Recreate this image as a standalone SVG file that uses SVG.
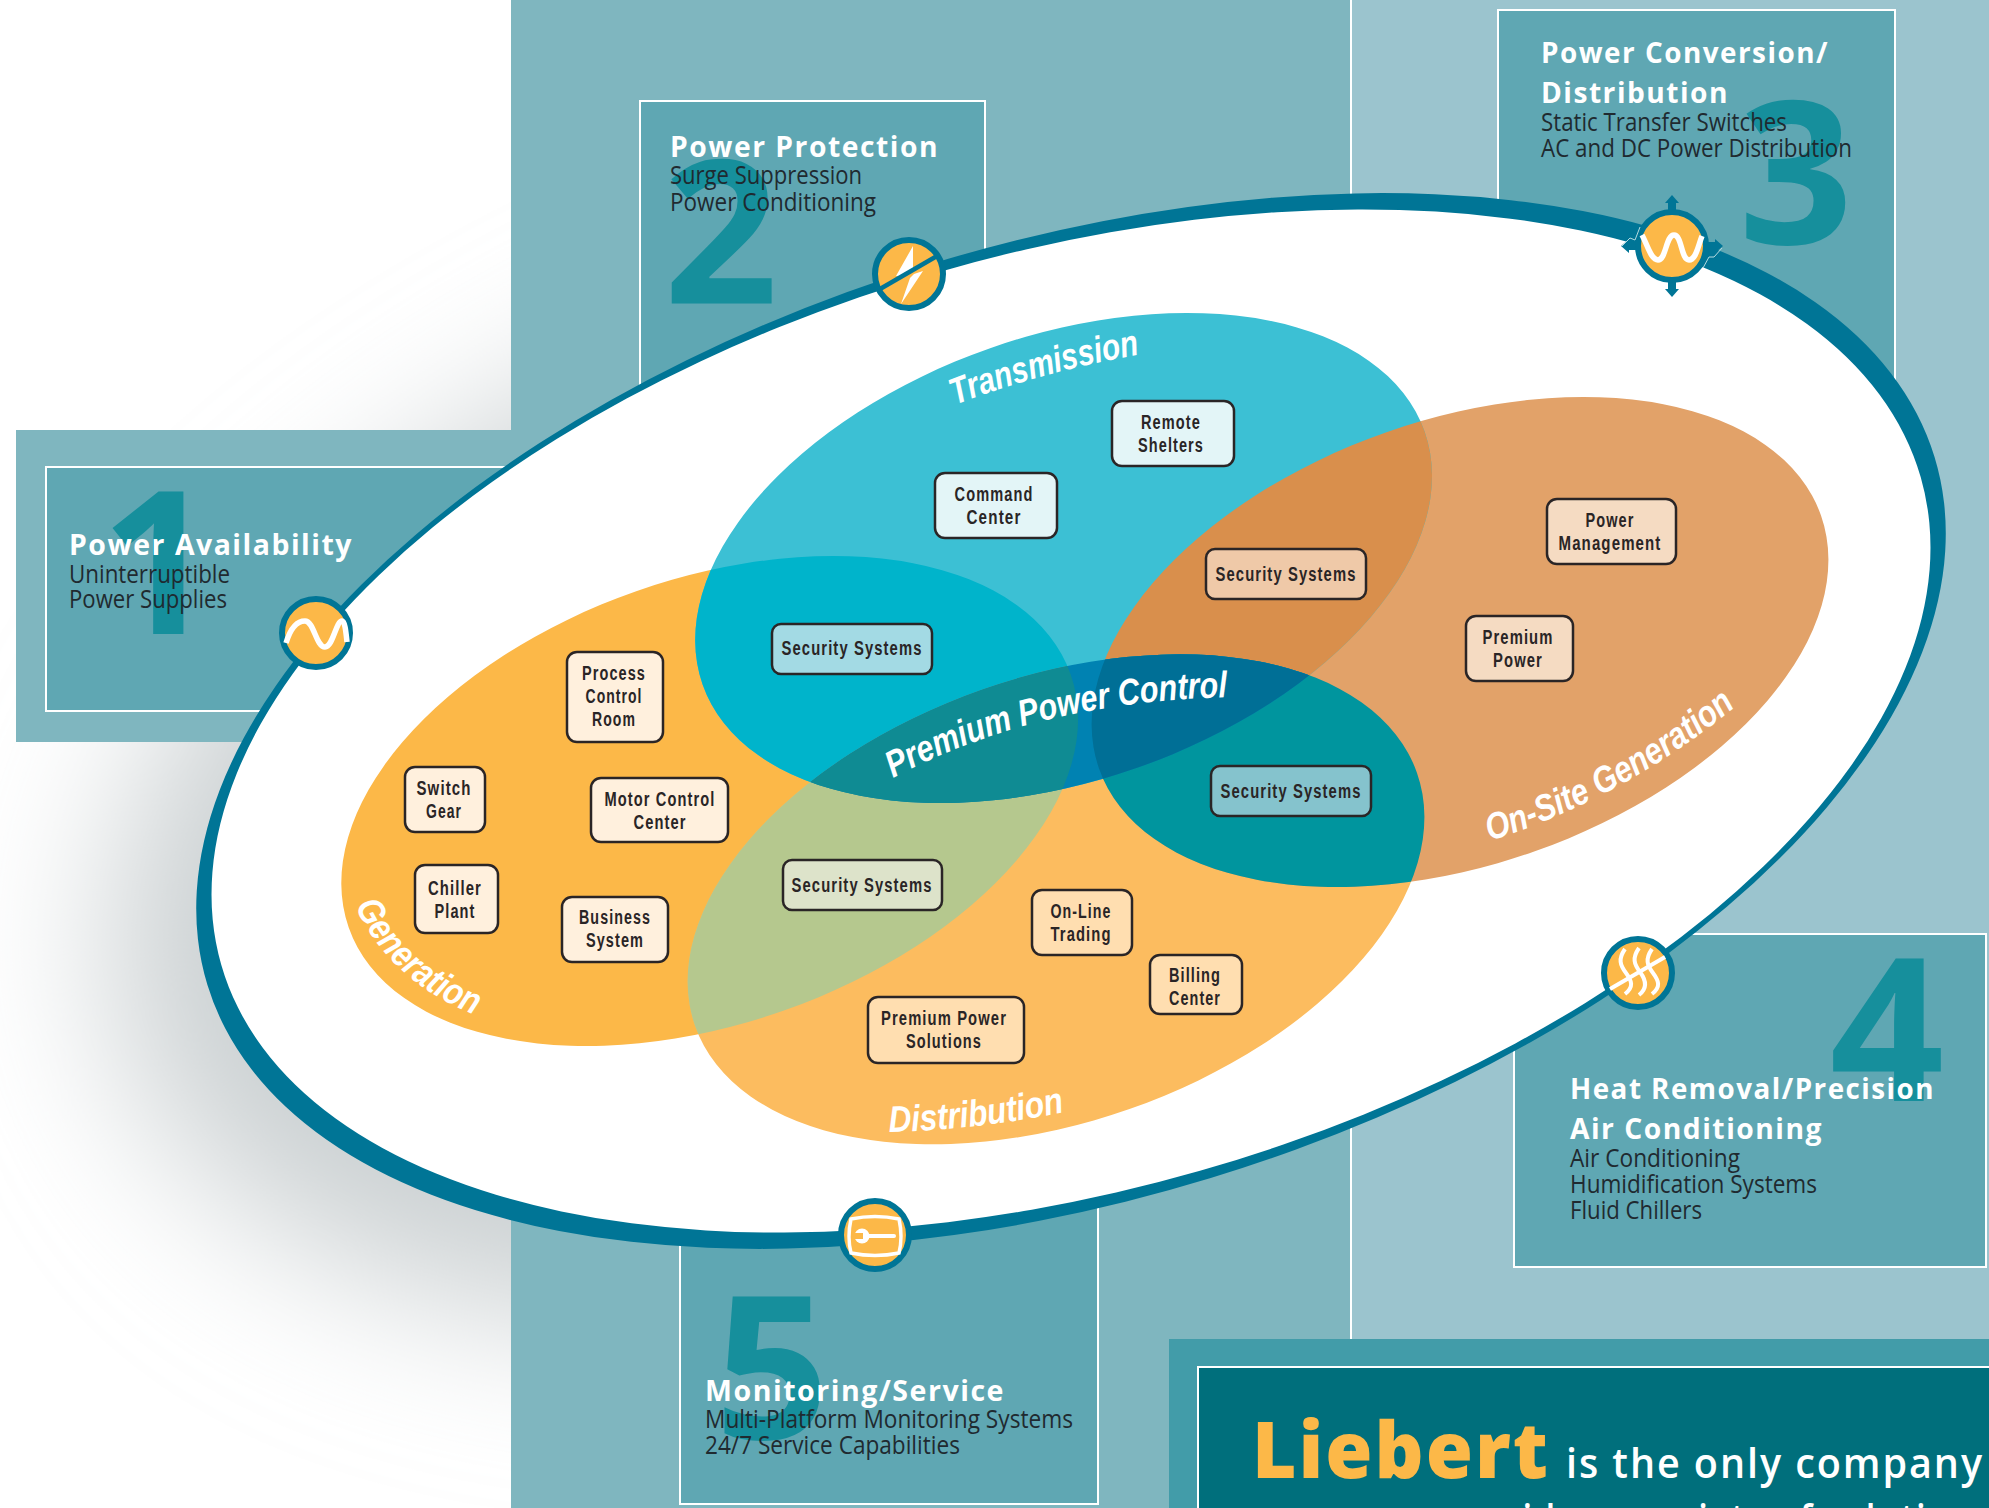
<svg xmlns="http://www.w3.org/2000/svg" xmlns:xlink="http://www.w3.org/1999/xlink" width="1989" height="1508" viewBox="0 0 1989 1508">
<style>
.pan{fill:#5fa7b3;stroke:#fff;stroke-width:2}
.dig{font-family:"Open Sans","Noto Sans",sans-serif;font-weight:700;font-size:200px;fill:#168f9c;text-anchor:middle}
.h{font-family:"Open Sans","Noto Sans",sans-serif;font-weight:700;font-size:28px;fill:#fff;letter-spacing:1.5px}
.b{font-family:"Open Sans","Noto Sans",sans-serif;font-size:25px;fill:#1f2a30}
.box{stroke:#2a2526;stroke-width:2.5}
.t{font-family:"Liberation Sans Narrow","Liberation Sans",sans-serif;font-weight:700;font-size:20px;fill:#2a2526;text-anchor:middle;letter-spacing:1.5px}
.v{font-family:"Liberation Sans Narrow","Liberation Sans",sans-serif;font-style:italic;font-weight:700;font-size:37px;fill:#fff}
.ic{fill:#fcb848;stroke:#007596;stroke-width:6}
.w{fill:none;stroke:#fff;stroke-width:5.5}
</style>
<defs>
<ellipse id="eT" cx="1063.6" cy="558" rx="382.5" ry="222.3" transform="rotate(-19.3 1063.6 558)"/>
<ellipse id="eO" cx="1460" cy="642" rx="382.5" ry="222.3" transform="rotate(-19.3 1460 642)"/>
<ellipse id="eG" cx="709.7" cy="801" rx="382.5" ry="222.3" transform="rotate(-19.3 709.7 801)"/>
<ellipse id="eD" cx="1056" cy="899.3" rx="382.5" ry="222.3" transform="rotate(-19.3 1056 899.3)"/>
<clipPath id="cT"><use href="#eT"/></clipPath>
<clipPath id="cO"><use href="#eO"/></clipPath>
<clipPath id="cG"><use href="#eG"/></clipPath>
<clipPath id="cD"><use href="#eD"/></clipPath>
<filter id="blur" x="-30%" y="-50%" width="160%" height="200%"><feGaussianBlur stdDeviation="78"/></filter>
<path id="pTr" d="M955 405Q1040 372 1142 354"/>
<path id="pGe" d="M355 906Q392 985 483 1018"/>
<path id="pDi" d="M889 1132Q975 1130 1065 1112"/>
<path id="pOn" d="M1490 841Q1635 795 1755 690"/>
<path id="pPr" d="M893 778Q1040 700 1236 697"/>
</defs>
<rect width="1989" height="1508" fill="#fff"/>
<ellipse cx="1012" cy="762" rx="930" ry="522" transform="rotate(-17 1012 762)" fill="#cbd0d2" filter="url(#blur)"/>
<g id="backgrounds">
<rect x="16" y="430" width="500" height="312" fill="#7fb6bf"/>
<rect x="1351" y="0" width="638" height="1508" fill="#9bc4ce"/>
<rect x="511" y="0" width="840" height="1508" fill="#7fb6bf"/>
<rect x="1350" y="0" width="2" height="1508" fill="#fff"/>
</g>
<g id="panel-1"><rect class="pan" x="46" y="467" width="660" height="244"/><text class="dig" x="158" y="634">1</text></g>
<g id="panel-2"><rect class="pan" x="640" y="101" width="345" height="400"/><text class="dig" x="721" y="303">2</text></g>
<g id="panel-3"><rect class="pan" x="1498" y="10" width="397" height="490"/><text class="dig" x="1796" y="244">3</text></g>
<g id="panel-4"><rect class="pan" x="1514" y="934" width="472" height="333"/><text class="dig" x="1887" y="1101">4</text></g>
<g id="panel-5"><rect class="pan" x="680" y="1100" width="418" height="404"/><text class="dig" x="772" y="1439">5</text></g>
<g id="ring">
<ellipse cx="1071" cy="721" rx="903" ry="478" transform="rotate(-17 1071 721)" fill="#007596"/>
<ellipse cx="1071" cy="721" rx="884" ry="468" transform="rotate(-16 1071 721)" fill="#fff"/>
</g>
<g id="venn">
<use href="#eG" fill="#fcb848"/>
<use href="#eD" fill="#fcbc5f"/>
<use href="#eO" fill="#e2a269"/>
<use href="#eT" fill="#3cc0d4"/>
<g clip-path="url(#cG)"><use href="#eT" fill="#00b4cb"/></g>
<g clip-path="url(#cO)"><use href="#eT" fill="#d98f4c"/></g>
<g clip-path="url(#cG)"><use href="#eD" fill="#b5c88e"/></g>
<g clip-path="url(#cO)"><use href="#eD" fill="#00959e"/></g>
<g clip-path="url(#cT)"><use href="#eD" fill="#0082b2"/></g>
<g clip-path="url(#cT)"><g clip-path="url(#cG)"><use href="#eD" fill="#0f8b93"/></g></g>
<g clip-path="url(#cT)"><g clip-path="url(#cO)"><use href="#eD" fill="#006f96"/></g></g>
<text class="v"><textPath href="#pTr" textLength="192" lengthAdjust="spacingAndGlyphs">Transmission</textPath></text>
<text class="v"><textPath href="#pGe" textLength="166" lengthAdjust="spacingAndGlyphs">Generation</textPath></text>
<text class="v"><textPath href="#pDi" textLength="177" lengthAdjust="spacingAndGlyphs">Distribution</textPath></text>
<text class="v"><textPath href="#pOn" textLength="282" lengthAdjust="spacingAndGlyphs">On-Site Generation</textPath></text>
<text class="v"><textPath href="#pPr" textLength="347" lengthAdjust="spacingAndGlyphs">Premium Power Control</textPath></text>
</g>
<g id="text-1"><text class="h" x="69" y="555" textLength="284" lengthAdjust="spacingAndGlyphs">Power Availability</text><text class="b" x="69" y="583" textLength="161" lengthAdjust="spacingAndGlyphs">Uninterruptible</text><text class="b" x="69" y="608" textLength="158" lengthAdjust="spacingAndGlyphs">Power Supplies</text></g>
<g id="text-2"><text class="h" x="670" y="157" textLength="269" lengthAdjust="spacingAndGlyphs">Power Protection</text><text class="b" x="670" y="184" textLength="192" lengthAdjust="spacingAndGlyphs">Surge Suppression</text><text class="b" x="670" y="211" textLength="206" lengthAdjust="spacingAndGlyphs">Power Conditioning</text></g>
<g id="text-3"><text class="h" x="1541" y="63" textLength="288" lengthAdjust="spacingAndGlyphs">Power Conversion/</text><text class="h" x="1541" y="103" textLength="188" lengthAdjust="spacingAndGlyphs">Distribution</text><text class="b" x="1541" y="131" textLength="246" lengthAdjust="spacingAndGlyphs">Static Transfer Switches</text><text class="b" x="1541" y="157" textLength="311" lengthAdjust="spacingAndGlyphs">AC and DC Power Distribution</text></g>
<g id="text-4"><text class="h" x="1570" y="1099" textLength="365" lengthAdjust="spacingAndGlyphs">Heat Removal/Precision</text><text class="h" x="1570" y="1139" textLength="253" lengthAdjust="spacingAndGlyphs">Air Conditioning</text><text class="b" x="1570" y="1167" textLength="170" lengthAdjust="spacingAndGlyphs">Air Conditioning</text><text class="b" x="1570" y="1193" textLength="247" lengthAdjust="spacingAndGlyphs">Humidification Systems</text><text class="b" x="1570" y="1219" textLength="132" lengthAdjust="spacingAndGlyphs">Fluid Chillers</text></g>
<g id="text-5"><text class="h" x="705" y="1401" textLength="300" lengthAdjust="spacingAndGlyphs">Monitoring/Service</text><text class="b" x="705" y="1428" textLength="368" lengthAdjust="spacingAndGlyphs">Multi-Platform Monitoring Systems</text><text class="b" x="705" y="1454" textLength="255" lengthAdjust="spacingAndGlyphs">24/7 Service Capabilities</text></g>
<g id="liebert">
<rect x="1169" y="1339" width="820" height="169" fill="#429ca9"/>
<rect x="1198" y="1367" width="793" height="143" fill="#006f7c" stroke="#fff" stroke-width="2"/>
<text x="1252" y="1478" textLength="298" lengthAdjust="spacingAndGlyphs" font-family="'Open Sans','Noto Sans',sans-serif" font-weight="800" font-size="78" letter-spacing="2" fill="#fcb848">Liebert</text>
<text x="1566" y="1478" textLength="418" lengthAdjust="spacingAndGlyphs" font-family="'Open Sans','Noto Sans',sans-serif" font-weight="600" font-size="41" letter-spacing="2" fill="#fff">is the only company</text>
<text x="1440" y="1534" textLength="552" lengthAdjust="spacingAndGlyphs" font-family="'Open Sans','Noto Sans',sans-serif" font-weight="600" font-size="41" letter-spacing="2" fill="#fff">provides a variety of solutions</text>
</g>
<g id="node-process-control-room"><rect class="box" x="567" y="652" width="96" height="90" rx="10" fill="#fff0dd"/><text class="t" x="614" y="680" textLength="64" lengthAdjust="spacingAndGlyphs">Process</text><text class="t" x="614" y="703" textLength="57" lengthAdjust="spacingAndGlyphs">Control</text><text class="t" x="614" y="726" textLength="44" lengthAdjust="spacingAndGlyphs">Room</text></g>
<g id="node-security-t"><rect class="box" x="772" y="624" width="160" height="50" rx="9" fill="#a3dae4"/><text class="t" x="852" y="655" textLength="141" lengthAdjust="spacingAndGlyphs">Security Systems</text></g>
<g id="node-command-center"><rect class="box" x="935" y="473" width="122" height="65" rx="10" fill="#e3f5f7"/><text class="t" x="994" y="501" textLength="79" lengthAdjust="spacingAndGlyphs">Command</text><text class="t" x="994" y="524" textLength="55" lengthAdjust="spacingAndGlyphs">Center</text></g>
<g id="node-remote-shelters"><rect class="box" x="1112" y="401" width="122" height="65" rx="10" fill="#e3f5f7"/><text class="t" x="1171" y="429" textLength="60" lengthAdjust="spacingAndGlyphs">Remote</text><text class="t" x="1171" y="452" textLength="66" lengthAdjust="spacingAndGlyphs">Shelters</text></g>
<g id="node-security-o"><rect class="box" x="1206" y="549" width="160" height="50" rx="9" fill="#efc9a8"/><text class="t" x="1286" y="581" textLength="141" lengthAdjust="spacingAndGlyphs">Security Systems</text></g>
<g id="node-power-management"><rect class="box" x="1547" y="499" width="129" height="65" rx="10" fill="#f5dbc2"/><text class="t" x="1610" y="527" textLength="49" lengthAdjust="spacingAndGlyphs">Power</text><text class="t" x="1610" y="550" textLength="103" lengthAdjust="spacingAndGlyphs">Management</text></g>
<g id="node-premium-power"><rect class="box" x="1466" y="616" width="107" height="65" rx="10" fill="#f5dbc2"/><text class="t" x="1518" y="644" textLength="71" lengthAdjust="spacingAndGlyphs">Premium</text><text class="t" x="1518" y="667" textLength="50" lengthAdjust="spacingAndGlyphs">Power</text></g>
<g id="node-switch-gear"><rect class="box" x="405" y="767" width="80" height="65" rx="10" fill="#fff0dd"/><text class="t" x="444" y="795" textLength="55" lengthAdjust="spacingAndGlyphs">Switch</text><text class="t" x="444" y="818" textLength="36" lengthAdjust="spacingAndGlyphs">Gear</text></g>
<g id="node-motor-control-center"><rect class="box" x="591" y="778" width="137" height="64" rx="10" fill="#fff0dd"/><text class="t" x="660" y="806" textLength="111" lengthAdjust="spacingAndGlyphs">Motor Control</text><text class="t" x="660" y="829" textLength="53" lengthAdjust="spacingAndGlyphs">Center</text></g>
<g id="node-chiller-plant"><rect class="box" x="415" y="865" width="83" height="68" rx="10" fill="#fff0dd"/><text class="t" x="455" y="895" textLength="54" lengthAdjust="spacingAndGlyphs">Chiller</text><text class="t" x="455" y="918" textLength="41" lengthAdjust="spacingAndGlyphs">Plant</text></g>
<g id="node-business-system"><rect class="box" x="562" y="897" width="106" height="65" rx="10" fill="#fff0dd"/><text class="t" x="615" y="924" textLength="72" lengthAdjust="spacingAndGlyphs">Business</text><text class="t" x="615" y="947" textLength="58" lengthAdjust="spacingAndGlyphs">System</text></g>
<g id="node-security-g"><rect class="box" x="783" y="860" width="159" height="50" rx="9" fill="#dde3ca"/><text class="t" x="862" y="892" textLength="141" lengthAdjust="spacingAndGlyphs">Security Systems</text></g>
<g id="node-premium-power-solutions"><rect class="box" x="868" y="997" width="156" height="66" rx="10" fill="#ffdeb0"/><text class="t" x="944" y="1025" textLength="126" lengthAdjust="spacingAndGlyphs">Premium Power</text><text class="t" x="944" y="1048" textLength="76" lengthAdjust="spacingAndGlyphs">Solutions</text></g>
<g id="node-security-d"><rect class="box" x="1211" y="766" width="160" height="50" rx="9" fill="#85c3cd"/><text class="t" x="1291" y="798" textLength="141" lengthAdjust="spacingAndGlyphs">Security Systems</text></g>
<g id="node-online-trading"><rect class="box" x="1032" y="890" width="100" height="65" rx="10" fill="#ffdeb0"/><text class="t" x="1081" y="918" textLength="61" lengthAdjust="spacingAndGlyphs">On-Line</text><text class="t" x="1081" y="941" textLength="61" lengthAdjust="spacingAndGlyphs">Trading</text></g>
<g id="node-billing-center"><rect class="box" x="1150" y="955" width="92" height="59" rx="10" fill="#ffdeb0"/><text class="t" x="1195" y="982" textLength="52" lengthAdjust="spacingAndGlyphs">Billing</text><text class="t" x="1195" y="1005" textLength="52" lengthAdjust="spacingAndGlyphs">Center</text></g>
<g id="icon-1" transform="translate(316 633)"><circle class="ic" r="34"/><path class="w" d="M-30 10C-26 -3 -20 -12 -11 -12C-2 -12 0 14 9 14C17 14 20 -12 26 -12C29 -12 30 0 31 9"/></g>
<g id="icon-2" transform="translate(909 274)"><circle class="ic" r="34"/><path d="M4 -28L-13 2L-3 1.5L4 -3.5ZM14 -3L-8 30L1 4L5 0Z" fill="#fff"/><path d="M-29 15L28 -18" stroke="#007596" stroke-width="4.5"/></g>
<g id="icon-3" transform="translate(1672 246)"><path fill="#007596" d="M0 -51L7 -43H4V-30H-4V-43H-7ZM0 51L7 43H4V30H-4V43H-7ZM-51 0L-43 -7V-4H-30V4H-43V7ZM51 0L43 -7V-4H30V4H43V7Z"/><circle class="ic" r="34"/><path class="w" d="M-30 -11C-24 0 -21 14 -14 14C-6 14 -6 -11 2 -11C10 -11 9 14 17 14C24 14 26 0 30 -10"/><path d="M-32 -19L-37 -6L-42 -8L-50 0M31 22L37 11L42 11L50 2" fill="none" stroke="#b5dbe0" stroke-width="1"/></g>
<g id="icon-4" transform="translate(1638 973)"><circle class="ic" r="34"/><g class="w" style="stroke-width:4"><path d="M-13 -24C-20 -14 -18 -8 -12 0C-6 8 -4 14 -13 21"/><path d="M1 -25C-6 -15 -4 -9 2 -1C8 7 10 15 1 22"/><path d="M14 -24C7 -14 9 -8 15 0C21 8 23 14 14 21"/><path d="M-28 16L27 -16"/></g></g>
<g id="icon-5" transform="translate(875 1235)"><circle class="ic" r="34"/><path d="M-24 -16Q0 -21 24 -16Q28 2 24 18Q0 23 -24 18Q-28 2 -24 -16Z" fill="none" stroke="#fff" stroke-width="3.5"/><circle cx="-13" cy="1" r="7.5" fill="#fff"/><rect x="-22" y="-2" width="10" height="6" fill="#fcb848"/><path d="M-8 1H19" stroke="#fff" stroke-width="4" stroke-linecap="round"/></g>
</svg>
